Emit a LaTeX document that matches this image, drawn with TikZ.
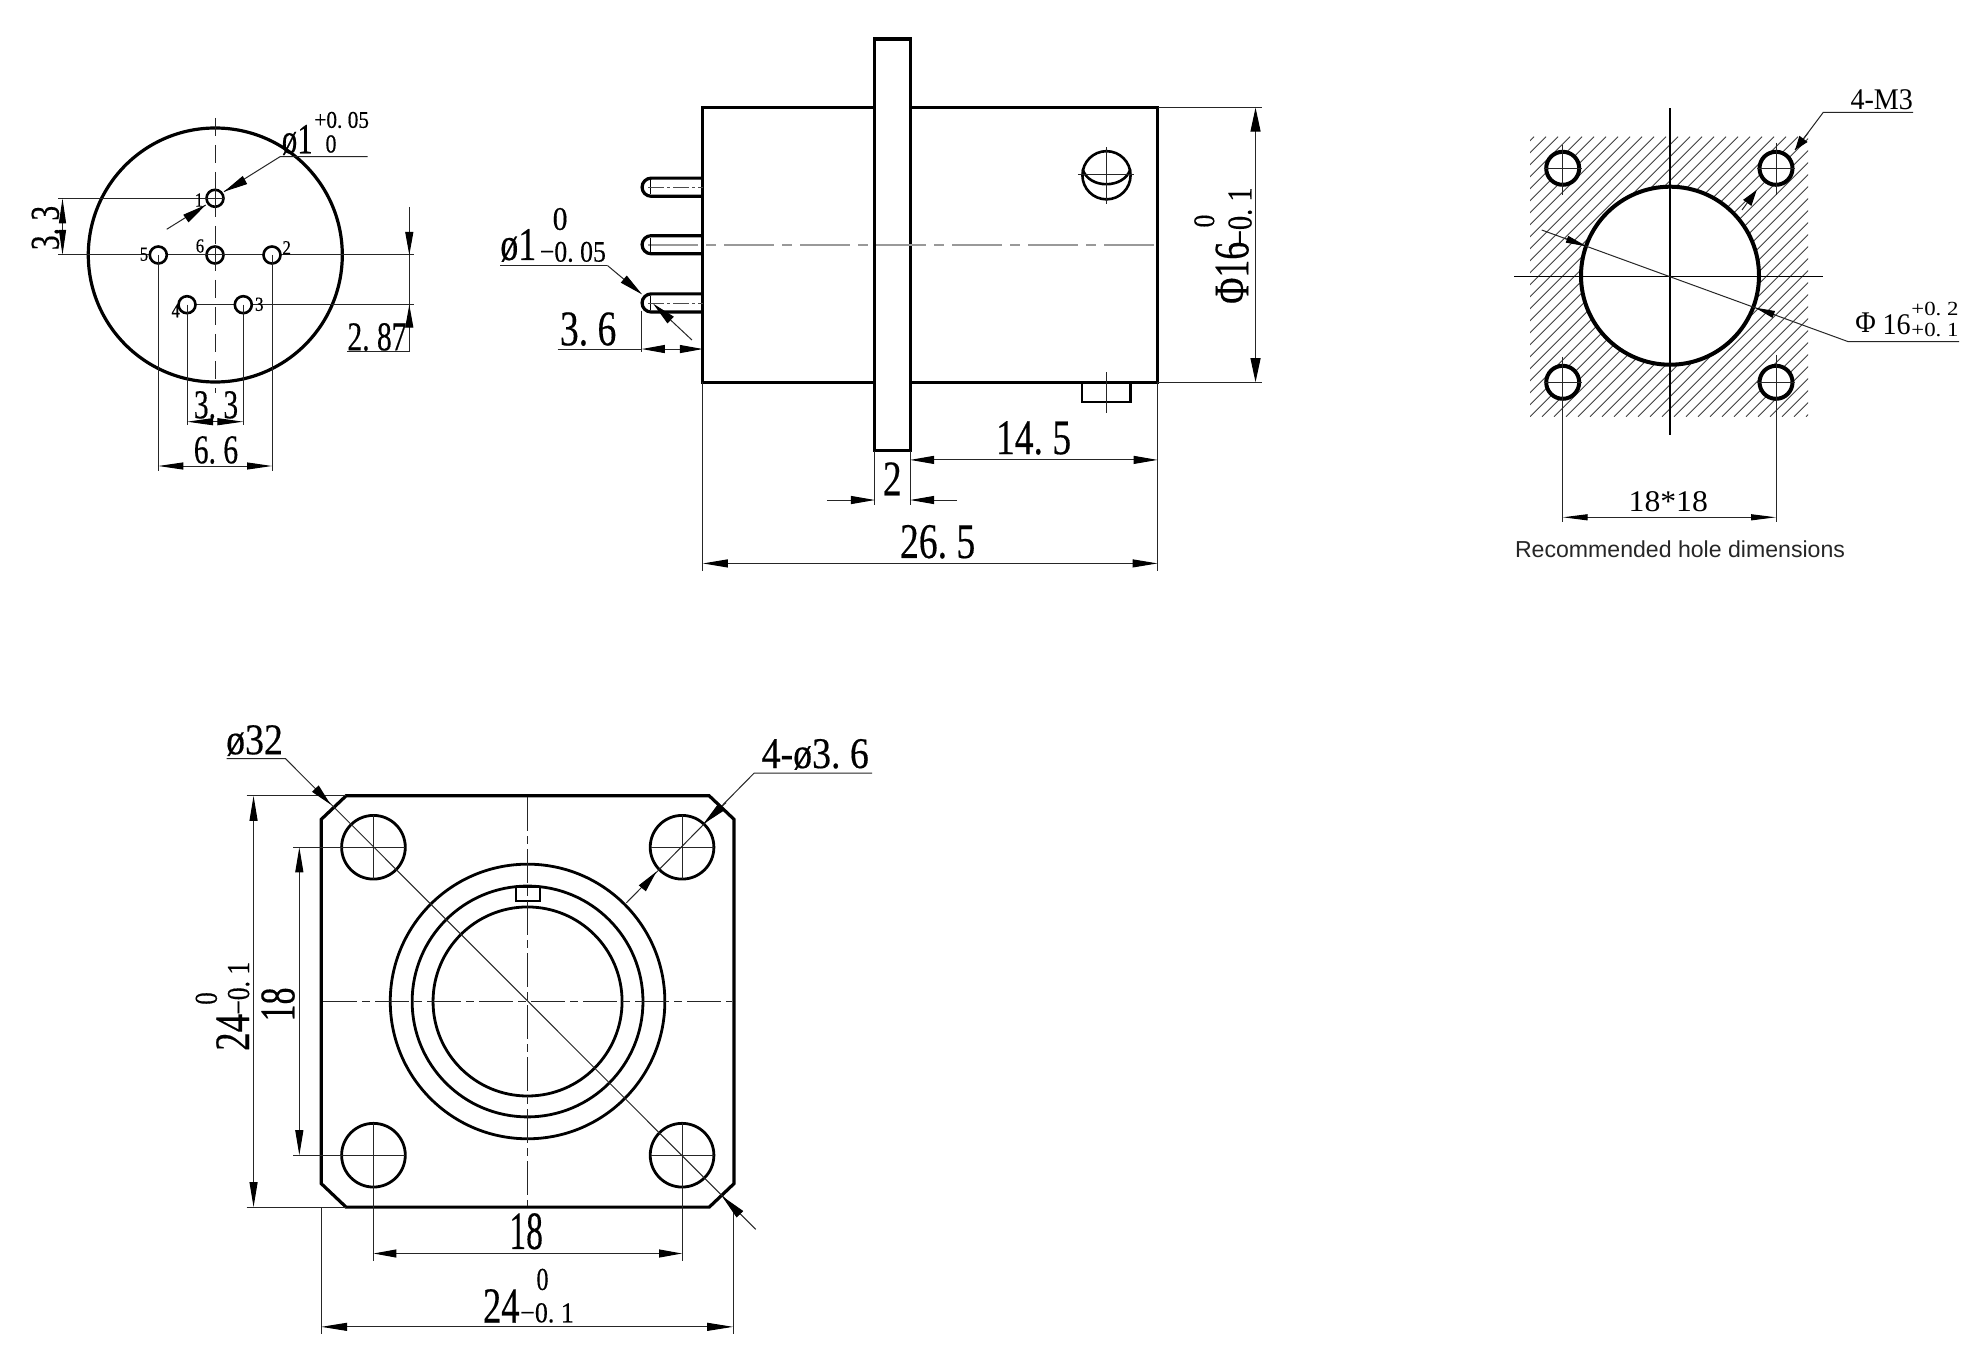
\documentclass[tikz,border=0pt]{standalone}
\usepackage{fontspec}
\usetikzlibrary{arrows.meta}
\newfontfamily\cadf[FakeBold=0.4]{Liberation Serif}
\newfontfamily\cadl{Liberation Serif}
\newfontfamily\capf{Liberation Sans}
\newcommand\dt{.\hspace{.25em}}
\tikzset{
  outline/.style={line width=3.2pt,black,line join=miter},
  thin line/.style={line width=1pt,black!85},
  centre/.style={line width=1pt,black!85,dash pattern=on 34pt off 5pt on 8pt off 5pt},
  greycentre/.style={line width=1.6pt,black!40,dash pattern=on 50pt off 8pt on 10pt off 8pt},
  pincentre/.style={line width=.8pt,black!70,dash pattern=on 16pt off 3pt on 3pt off 3pt},
  dimarrows/.style 2 args={line width=1pt,black!85,{Triangle[length=#1pt,width=#2pt,color=black]}-{Triangle[length=#1pt,width=#2pt,color=black]}},
  endarrow/.style 2 args={line width=1pt,black!85,-{Triangle[length=#1pt,width=#2pt,color=black]}},
  cad/.style 2 args={font=\cadf\fontsize{#1}{#1}\selectfont,xscale=1.2*#2,transform shape,inner sep=0pt,text=black},
  vcad/.style 2 args={rotate=90,cad={#1}{#2}},
  cadlight/.style 2 args={font=\cadl\fontsize{#1}{#1}\selectfont,xscale=1.2*#2,transform shape,inner sep=0pt,text=black},
}
\begin{document}
\begin{tikzpicture}[x=1pt,y=-1pt]
\useasboundingbox (0,0) rectangle (1982,1356);
\fill[white] (0,0) rectangle (1982,1356);

% ---------- pin face view ----------
\draw[line width=3.2pt] (215.3,255) circle[radius=127pt];
\draw[line width=1pt,black!85,dash pattern=on 18pt off 9pt] (215,118) -- (215,393);
\draw[thin line] (58,255) -- (414,255);
\draw[thin line] (58,198.3) -- (215,198.3);
\draw[thin line] (187,304.7) -- (414,304.7);
\foreach \x/\y in {215/198.3,215/255,158.3/255,272/255,187/304.7,243.3/304.7}
  \draw[line width=2.6pt,fill=white] (\x,\y) circle[radius=8.5pt];
\draw[thin line] (215,188) -- (215,208) (205,198.3) -- (225,198.3) (215,245) -- (215,265) (205,255) -- (225,255);
\draw[thin line] (158.3,255) -- (158.3,470.7) (272,255) -- (272,470.7);
\draw[thin line] (187,304.7) -- (187,425) (243.3,304.7) -- (243.3,425);
\draw[thin line] (409.3,207) -- (409.3,351.7) -- (347,351.7);
\draw[endarrow={23}{8}] (409.3,232) -- (409.3,255);
\draw[endarrow={23}{8}] (409.3,328) -- (409.3,304.7);
\draw[dimarrows={25}{7}] (62.5,198.3) -- (62.5,255);
\draw[dimarrows={25}{7}] (158.3,466) -- (272,466);
\draw[dimarrows={26}{7}] (187,421.7) -- (243.3,421.7);
\draw[thin line] (367.7,156.7) -- (280,156.7) -- (224,191.7);
\draw[thin line] (166.7,229.3) -- (205.7,205);
\draw[endarrow={24}{9}] (245,180) -- (224,191.7);
\draw[endarrow={24}{9}] (186.7,218) -- (205.7,205);
\node[vcad={41}{.6}] (t33a) at (45.5,228) {3\dt 3};
\node[cad={41}{.6}] (t287) at (377,337) {2\dt 87};
\node[cad={41}{.6}] (t33b) at (216,405) {3\dt 3};
\node[cad={41}{.6}] (t66) at (216,450) {6\dt 6};
\node[cad={43}{.6}] (tp1) at (297.3,140) {ø1};
\node[cad={24}{.74}] (tp1a) at (341.7,120) {+0\dt 05};
\node[cad={26}{.7}] (tp1b) at (331,144) {0};
\foreach \n/\x/\y/\t in {p1/199/200/1,p5/144/254.3/5,p6/200/246/6,p2/286.7/247.7/2,p4/175.7/310.7/4,p3/259.3/304.3/3}
  \node[cad={20}{.7}] (\n) at (\x,\y) {\t};

% ---------- side view ----------
\begin{scope}[xshift=2.45pt,yshift=-.095pt,xscale=.9949,yscale=.99527]
\draw[outline] (704,108) rectangle (1161,383.9);
\draw[outline,fill=white] (876.4,39) rectangle (912.3,452.6);
\draw[greycentre] (649,245.8) -- (1161,245.8);
\foreach \y in {188,245.8,304.3}{
  \draw[outline] (704,\y-9.1) -- (652,\y-9.1) arc[start angle=90,end angle=270,radius=9.1pt] -- (704,\y+9.1);
  \draw[line width=1.2pt] (651,\y-7) -- (651,\y+7);
}
\draw[pincentre] (649,188) -- (704,188);
\draw[pincentre] (649,304.3) -- (704,304.3);
\draw[line width=2.6pt] (1109.7,176) circle[radius=24.2pt];
\draw[line width=2.6pt] (1085.7,170) .. controls (1092,190) and (1127,190) .. (1133.7,170);
\draw[thin line] (1109.7,147.9) -- (1109.7,204.5) (1081,175.3) -- (1137.5,175.3);
\draw[line width=2.6pt] (1085,383.9) -- (1085,404) -- (1134,404) -- (1134,383.9);
\draw[thin line] (1109.7,373.7) -- (1109.7,414.6);
\draw[thin line] (1161,108) -- (1266,108) (1161,383.9) -- (1266,383.9);
\draw[dimarrows={24}{10}] (1259.5,108) -- (1259.5,383.9);
\draw[thin line] (704,383.9) -- (704,573.5) (1161,383.9) -- (1161,573.5);
\draw[dimarrows={25}{8}] (704,566) -- (1161,566);
\draw[dimarrows={24}{8}] (912.3,462) -- (1161,462);
\draw[thin line] (877,452.6) -- (877,507.8) (912.3,452.6) -- (912.3,507.8);
\draw[endarrow={24}{8}] (828.7,502.3) -- (877,502.3);
\draw[endarrow={24}{8}] (959.5,502.3) -- (912.3,502.3);
\draw[thin line] (642.6,312) -- (642.6,354);
\draw[thin line] (558,350.6) -- (642.6,350.6);
\draw[dimarrows={23}{8}] (642.6,350.6) -- (704,350.6);
\draw[thin line] (500.5,266.6) -- (608,266.6);
\draw[endarrow={24}{9}] (608,266.6) -- (643,295.8);
\draw[endarrow={24}{9}] (693,341.5) -- (654,305);
\node[cad={50}{.63}] (t265) at (940,544.3) {26\dt 5};
\node[cad={50}{.63}] (t145) at (1036.4,440) {14\dt 5};
\node[cad={50}{.63}] (t2) at (894.4,481) {2};
\node[cad={50}{.63}] (t36) at (588.7,330.6) {3\dt 6};
\node[cad={47}{.64}] (td1) at (518.5,246.5) {ø1};
\node[cad={33}{.75}] (td1a) at (560.5,220) {0};
\node[cad={30}{.72}] (td1b) at (573.3,253) {−0\dt 05};
\node[vcad={50}{.6}] (t16) at (1236,274) {Φ16};
\node[vcad={35}{.68}] (t16a) at (1244,217.7) {−0\dt 1};
\node[vcad={30}{.72}] (t16b) at (1208,222) {0};
\end{scope}

% ---------- recommended hole ----------
\begin{scope}
  \clip (1530,136.7) rectangle (1808,416.7);
  \foreach \x in {1242,1254,...,1812}
    \draw[line width=.9pt,black!75] (\x,416.7) -- (\x+280,136.7);
\end{scope}
\draw[line width=4pt,fill=white] (1670,275.7) circle[radius=89pt];
\foreach \x/\y in {1562.7/168.3,1776/168.3,1562.7/382.3,1776/382.3}{
  \draw[line width=4pt,fill=white] (\x,\y) circle[radius=16.5pt];
  \draw[thin line] (\x-19,\y) -- (\x+19,\y);
}
\draw[thin line] (1562.7,145) -- (1562.7,195) (1776,143) -- (1776,195);
\draw[thin line] (1562.7,357) -- (1562.7,521.7) (1776,355) -- (1776,521.7);
\draw[line width=1.2pt] (1670,108.3) -- (1670,435) (1514.3,276.7) -- (1822.7,276.7);
\draw[thin line] (1959,341.7) -- (1848.3,341.7) -- (1541.7,230);
\draw[endarrow={20}{7}] (1775,314.9) -- (1755,307.6);
\draw[endarrow={21}{7}] (1565,238.5) -- (1586.7,246.4);
\draw[thin line] (1913,112.3) -- (1823.3,112.3) -- (1795,150);
\draw[endarrow={14}{10}] (1808,133) -- (1795,150);
\draw[endarrow={16}{10}] (1742,210) -- (1756.7,190);
\draw[dimarrows={25}{6}] (1562.7,517.3) -- (1776,517.3);
\node[cadlight={30}{.78}] (t4m3) at (1881.7,99.3) {4-M3};
\node[cadlight={30}{.88}] (t18x) at (1668.3,501.7) {18*18};
\node[cadlight={30}{.78}] (tphi) at (1865.7,323) {Φ};
\node[cadlight={30}{.78}] (t16c) at (1896.7,325) {16};
\node[cadlight={20}{.95}] (t16d) at (1935,309.3) {+0\dt 2};
\node[cadlight={20}{.95}] (t16e) at (1935,330) {+0\dt 1};
\node[font=\capf\fontsize{23.1}{23.1}\selectfont,inner sep=0pt,text=black!85] (cap) at (1680,549.3) {Recommended hole dimensions};

% ---------- front view ----------
\begin{scope}[xshift=.87pt,yshift=-3.51pt,xscale=.99488,yscale=.99498]
\draw[outline] (347,796.3) -- (712,796.3) -- (737,820) -- (737,1186) -- (712,1209.7) -- (347,1209.7) -- (322,1186) -- (322,820) -- cycle;
\draw[line width=2.8pt] (529.4,1003) circle[radius=138pt];
\draw[line width=2.8pt] (529.4,1003) circle[radius=116pt];
\draw[line width=2.8pt] (529.4,1003) circle[radius=95pt];
\draw[line width=2.4pt,fill=white] (517.7,888) rectangle (542,901.9);
\foreach \x/\y in {374.5/848,684.7/848,374.5/1157.5,684.7/1157.5}
  \draw[line width=2.8pt] (\x,\y) circle[radius=32pt];
\draw[centre] (529.4,797.6) -- (529.4,1208.8);
\draw[centre] (324,1002.8) -- (735,1002.8);
\draw[thin line] (374.5,816) -- (374.5,880) (684.7,816) -- (684.7,880);
\draw[thin line] (374.5,1125.6) -- (374.5,1263.5) (684.7,1125.6) -- (684.7,1263.5);
\draw[thin line] (294,848) -- (406,848) (653,848) -- (717,848);
\draw[thin line] (294,1157.5) -- (406,1157.5) (653,1157.5) -- (717,1157.5);
\draw[thin line] (247,796.3) -- (347,796.3) (247,1209.7) -- (347,1209.7);
\draw[thin line] (322,1209.7) -- (322,1337) (736,1209.7) -- (736,1337);
\draw[dimarrows={25}{8}] (254,796.3) -- (254,1209.7);
\draw[dimarrows={25}{8}] (300,848) -- (300,1157.5);
\draw[dimarrows={23}{8}] (374.5,1256.3) -- (684.7,1256.3);
\draw[dimarrows={26}{8}] (322,1330) -- (736,1330);
\draw[thin line] (227,758.9) -- (286,758.9) -- (758.7,1232);
\draw[endarrow={22}{9}] (317.4,790.4) -- (331.4,805);
\draw[endarrow={26}{9}] (743,1217) -- (724.5,1198.3);
\draw[thin line] (875.7,773.6) -- (757,773.6) -- (628.6,904);
\draw[endarrow={26}{9}] (729,803) -- (705.8,824.9);
\draw[endarrow={22}{9}] (645,889) -- (659,872.4);
\node[cad={44}{.72}] (t32) at (255,740.8) {ø32};
\node[cad={44}{.72}] (t436) at (818.6,754.7) {4-ø3\dt 6};
\node[cad={54}{.52}] (t18h) at (528,1234) {18};
\node[cad={51}{.6}] (t24h) at (503,1309) {24};
\node[cad={29}{.75}] (t24ha) at (549,1316) {−0\dt 1};
\node[cad={32}{.63}] (t24hb) at (544.4,1282.4) {0};
\node[vcad={50}{.57}] (t18v) at (278.6,1006) {18};
\node[vcad={50}{.62}] (t24v) at (233,1034) {24};
\node[vcad={32}{.67}] (t24va) at (239,989.7) {−0\dt 1};
\node[vcad={32}{.65}] (t24vb) at (206.5,1000) {0};
\end{scope}
\end{tikzpicture}
\end{document}
